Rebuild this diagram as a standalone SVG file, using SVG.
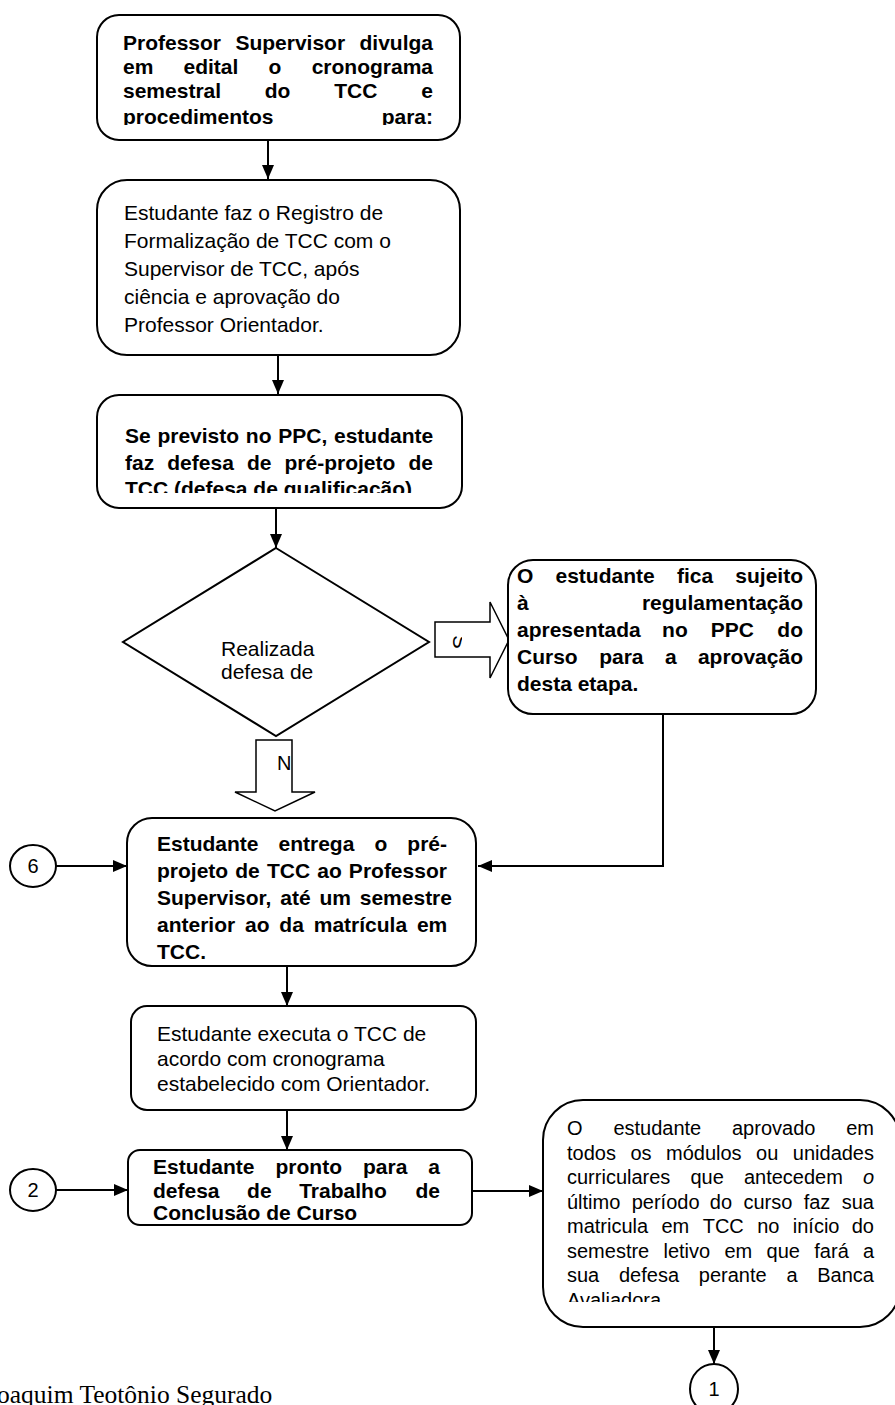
<svg xmlns="http://www.w3.org/2000/svg" width="895" height="1405" viewBox="0 0 895 1405">
<style>
.box{fill:#fff;stroke:#000;stroke-width:2}
.blk{fill:#fff;stroke:#000;stroke-width:1.5}
.conn{stroke:#000;stroke-width:2;fill:none}
.b{font-family:"Liberation Sans",Arial,sans-serif;font-weight:bold;font-size:21px;fill:#000}
.r{font-family:"Liberation Sans",Arial,sans-serif;font-size:21px;fill:#000}
.b20{font-family:"Liberation Sans",Arial,sans-serif;font-weight:bold;font-size:20px;fill:#000}
.r20{font-family:"Liberation Sans",Arial,sans-serif;font-size:20px;fill:#000}
.e{text-anchor:end}
</style>
<defs>
<marker id="ah" markerUnits="userSpaceOnUse" markerWidth="14" markerHeight="12" refX="14" refY="6" orient="auto">
<path d="M0,0 L14,6 L0,12 Z" fill="#000"/>
</marker>
<clipPath id="c1"><rect x="97" y="15" width="363" height="110"/></clipPath>
<clipPath id="c3"><rect x="97" y="395" width="365" height="98"/></clipPath>
<clipPath id="c7"><rect x="543" y="1100" width="352" height="202"/></clipPath>
<clipPath id="cs"><rect x="452" y="636" width="10" height="13"/></clipPath>
</defs>
<rect width="895" height="1405" fill="#fff"/>

<g id="connectors">
<line class="conn" x1="268" y1="140" x2="268" y2="179" marker-end="url(#ah)"/>
<line class="conn" x1="278" y1="355" x2="278" y2="394" marker-end="url(#ah)"/>
<line class="conn" x1="276" y1="508" x2="276" y2="548" marker-end="url(#ah)"/>
<polyline class="conn" points="663,714 663,866 478,866" marker-end="url(#ah)"/>
<line class="conn" x1="56" y1="866" x2="127" y2="866" marker-end="url(#ah)"/>
<line class="conn" x1="287" y1="966" x2="287" y2="1006" marker-end="url(#ah)"/>
<line class="conn" x1="287" y1="1110" x2="287" y2="1150" marker-end="url(#ah)"/>
<line class="conn" x1="56" y1="1190" x2="128" y2="1190" marker-end="url(#ah)"/>
<line class="conn" x1="472" y1="1191" x2="543" y2="1191" marker-end="url(#ah)"/>
<line class="conn" x1="714" y1="1327" x2="714" y2="1364" marker-end="url(#ah)"/>
</g>

<g id="n1">
<rect class="box" x="97" y="15" width="363" height="125" rx="22"/>
<g clip-path="url(#c1)">
<text class="b" y="50"><tspan x="123">Professor</tspan><tspan x="235.4">Supervisor</tspan><tspan x="433" class="e">divulga</tspan></text>
<text class="b" y="74"><tspan x="123">em</tspan><tspan x="183.5">edital</tspan><tspan x="268.6">o</tspan><tspan x="433" class="e">cronograma</tspan></text>
<text class="b" y="98"><tspan x="123">semestral</tspan><tspan x="264.7">do</tspan><tspan x="334.3">TCC</tspan><tspan x="433" class="e">e</tspan></text>
<text class="b" y="124"><tspan x="123">procedimentos</tspan><tspan x="433" class="e">para:</tspan></text>
</g>
</g>

<g id="n2">
<rect class="box" x="97" y="180" width="363" height="175" rx="30"/>
<text class="r" x="124" y="220">Estudante faz o Registro de</text>
<text class="r" x="124" y="248">Formalização de TCC com o</text>
<text class="r" x="124" y="276">Supervisor de TCC, após</text>
<text class="r" x="124" y="304">ciência e aprovação do</text>
<text class="r" x="124" y="332">Professor Orientador.</text>
</g>

<g id="n3">
<rect class="box" x="97" y="395" width="365" height="113" rx="22"/>
<g clip-path="url(#c3)">
<text class="b" x="125" y="443" word-spacing="0.9">Se previsto no PPC, estudante</text>
<text class="b" y="470"><tspan x="125">faz</tspan><tspan x="167.3">defesa</tspan><tspan x="246.9">de</tspan><tspan x="284.5">pré-projeto</tspan><tspan x="433" class="e">de</tspan></text>
<text class="b" x="125" y="496">TCC (defesa de qualificação)</text>
</g>
</g>

<g id="n4">
<polygon class="box" points="276,548 429,642 276,736 123,642"/>
<text class="r" x="221" y="656">Realizada</text>
<text class="r" x="221" y="679">defesa de</text>
</g>

<g id="n5">
<polygon class="blk" points="435,622 490,622 490,602 509,640 490,678 490,657 435,657"/>
<g clip-path="url(#cs)"><text class="r20" x="460" y="642" text-anchor="middle" transform="rotate(90 460 642)" dy="7">S</text></g>
</g>

<g id="n6">
<rect class="box" x="508" y="560" width="308" height="154" rx="25"/>
<text class="b" y="583"><tspan x="517">O</tspan><tspan x="555.5">estudante</tspan><tspan x="676.9">fica</tspan><tspan x="803" class="e">sujeito</tspan></text>
<text class="b" y="610"><tspan x="517">à</tspan><tspan x="803" class="e">regulamentação</tspan></text>
<text class="b" y="637"><tspan x="517">apresentada</tspan><tspan x="662.1">no</tspan><tspan x="710.8">PPC</tspan><tspan x="803" class="e">do</tspan></text>
<text class="b" y="664"><tspan x="517">Curso</tspan><tspan x="599.2">para</tspan><tspan x="665.1">a</tspan><tspan x="803" class="e">aprovação</tspan></text>
<text class="b" x="517" y="691">desta etapa.</text>
</g>

<g id="n7">
<polygon class="blk" points="256,740 292,740 292,792 315,792 275,811 235,792 256,792"/>
<text class="r20" x="277" y="770">N</text>
</g>

<g id="n8">
<rect class="box" x="127" y="818" width="349" height="148" rx="25"/>
<text class="b" y="851"><tspan x="157">Estudante</tspan><tspan x="278.5">entrega</tspan><tspan x="374.4">o</tspan><tspan x="447" class="e">pré-</tspan></text>
<text class="b" x="157" y="878" word-spacing="1.3">projeto de TCC ao Professor</text>
<text class="b" x="157" y="905" word-spacing="3">Supervisor, até um semestre</text>
<text class="b" x="157" y="932" word-spacing="4">anterior ao da matrícula em</text>
<text class="b" x="157" y="959">TCC.</text>
</g>

<g id="n9">
<ellipse class="box" cx="33" cy="866" rx="23" ry="21"/>
<text class="r20" x="33" y="873" text-anchor="middle">6</text>
</g>

<g id="n10">
<rect class="box" x="131" y="1006" width="345" height="104" rx="16"/>
<text class="r" x="157" y="1041">Estudante executa o TCC de</text>
<text class="r" x="157" y="1066">acordo com cronograma</text>
<text class="r" x="157" y="1091">estabelecido com Orientador.</text>
</g>

<g id="n11">
<rect class="box" x="128" y="1150" width="344" height="75" rx="12"/>
<text class="b" y="1174"><tspan x="153">Estudante</tspan><tspan x="275.5">pronto</tspan><tspan x="363">para</tspan><tspan x="440" class="e">a</tspan></text>
<text class="b" y="1198"><tspan x="153">defesa</tspan><tspan x="247.1">de</tspan><tspan x="299.2">Trabalho</tspan><tspan x="440" class="e">de</tspan></text>
<text class="b" x="153" y="1220">Conclusão de Curso</text>
</g>

<g id="n12">
<ellipse class="box" cx="33" cy="1190" rx="23" ry="21"/>
<text class="r20" x="33" y="1197" text-anchor="middle">2</text>
</g>

<g id="n13">
<rect class="box" x="543" y="1100" width="357" height="227" rx="40"/>
<g clip-path="url(#c7)">
<text class="r20" y="1135"><tspan x="567">O</tspan><tspan x="613.4">estudante</tspan><tspan x="732">aprovado</tspan><tspan x="874" class="e">em</tspan></text>
<text class="r20" y="1159.5"><tspan x="567">todos</tspan><tspan x="630.4">os</tspan><tspan x="666">módulos</tspan><tspan x="756.1">ou</tspan><tspan x="874" class="e">unidades</tspan></text>
<text class="r20" y="1184"><tspan x="567">curriculares</tspan><tspan x="690.4">que</tspan><tspan x="743.9">antecedem</tspan><tspan x="874" class="e" font-style="italic">o</tspan></text>
<text class="r20" y="1208.5"><tspan x="567">último</tspan><tspan x="631.7">período</tspan><tspan x="709.8">do</tspan><tspan x="743.4">curso</tspan><tspan x="803.7">faz</tspan><tspan x="874" class="e">sua</tspan></text>
<text class="r20" y="1233"><tspan x="567">matricula</tspan><tspan x="661.5">em</tspan><tspan x="702.7">TCC</tspan><tspan x="757.2">no</tspan><tspan x="792.8">início</tspan><tspan x="874" class="e">do</tspan></text>
<text class="r20" y="1257.5"><tspan x="567">semestre</tspan><tspan x="663.5">letivo</tspan><tspan x="724.5">em</tspan><tspan x="766.6">que</tspan><tspan x="814.3">fará</tspan><tspan x="874" class="e">a</tspan></text>
<text class="r20" y="1282"><tspan x="567">sua</tspan><tspan x="619">defesa</tspan><tspan x="698.8">perante</tspan><tspan x="786.4">a</tspan><tspan x="874" class="e">Banca</tspan></text>
<text class="r20" x="567" y="1306.5">Avaliadora</text>
</g>
</g>

<g id="n14">
<ellipse class="box" cx="714" cy="1389" rx="24" ry="25"/>
<text class="r20" x="714" y="1396" text-anchor="middle">1</text>
</g>

<text x="-3" y="1403" font-family="'Liberation Serif','Times New Roman',serif" font-size="25.5" fill="#000">oaquim Teotônio Segurado</text>
</svg>
